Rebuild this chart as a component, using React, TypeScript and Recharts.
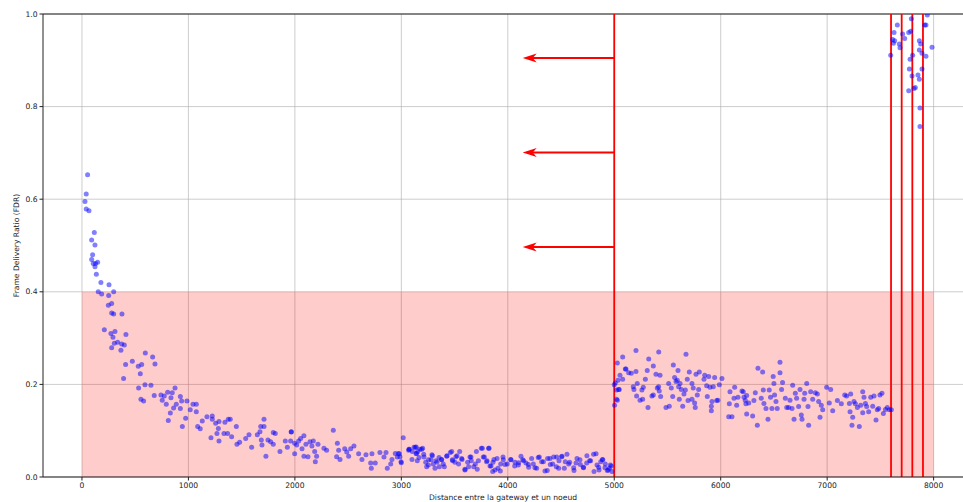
import { ScatterChart, Scatter, XAxis, YAxis, CartesianGrid, ReferenceArea, ReferenceLine, Label } from "recharts";

// FDR vs distance

const decayX = [53, 40, 28, 40, 66, 116, 91, 122, 100, 91, 106, 122, 147, 128, 135, 178, 254, 153, 185, 298, 251, 279, 248, 279, 298, 376, 210, 272, 310, 413, 291, 304, 335, 373, 398, 279, 366, 595, 664, 686, 473, 410, 529, 561, 548, 391, 532, 592, 648, 554, 579, 679, 742, 773, 805, 848, 874, 754, 792, 836, 830, 861, 886, 811, 924, 936, 924, 943, 974, 986, 1017, 1043, 1074, 1074, 1087, 1111, 1130, 1174, 1224, 1224, 1212, 1256, 1281, 1268, 1287, 1343, 1374, 1393, 1334, 1368, 1287, 1406, 1456, 1450, 1481, 1538, 1569, 1594];
const decayY = [0.653, 0.611, 0.595, 0.579, 0.575, 0.528, 0.512, 0.501, 0.48, 0.47, 0.461, 0.454, 0.464, 0.461, 0.438, 0.42, 0.415, 0.4, 0.395, 0.4, 0.392, 0.375, 0.371, 0.354, 0.352, 0.352, 0.318, 0.31, 0.314, 0.308, 0.302, 0.289, 0.291, 0.287, 0.285, 0.279, 0.274, 0.268, 0.259, 0.244, 0.25, 0.243, 0.239, 0.243, 0.223, 0.213, 0.192, 0.199, 0.198, 0.168, 0.164, 0.176, 0.177, 0.175, 0.183, 0.182, 0.192, 0.166, 0.157, 0.171, 0.138, 0.149, 0.157, 0.122, 0.174, 0.164, 0.148, 0.109, 0.127, 0.164, 0.145, 0.157, 0.157, 0.141, 0.109, 0.104, 0.121, 0.13, 0.132, 0.125, 0.085, 0.116, 0.105, 0.094, 0.12, 0.118, 0.125, 0.125, 0.094, 0.094, 0.078, 0.087, 0.071, 0.109, 0.075, 0.083, 0.091, 0.064];

const tailX = [1647, 1672, 1679, 1710, 1710, 1685, 1691, 1728, 1747, 1772, 1797, 1797, 1816, 1860, 1910, 1929, 1966, 1966, 1960, 1998, 1998, 2017, 2035, 2054, 2067, 2085, 2085, 2104, 2123, 2142, 2160, 2173, 2186, 2192, 2204, 2217, 2273, 2298, 2361, 2399, 2411, 2392, 2424, 2468, 2487, 2505, 2524, 2555, 2599, 2630, 2668, 2712, 2724, 2755, 2718, 2799, 2837, 2856, 2868, 2900, 2912, 2943, 2962, 2981, 3000, 3018, 3069, 3100, 3131, 3138, 3150, 3075, 3119, 3144, 3175, 3200, 3213, 3238, 3256, 3288, 3300, 3325, 3357, 3376, 3394, 3426, 3473, 3482, 3513, 3538, 3570, 3598, 3632, 3645, 3657, 3695, 3713, 3751, 3770, 3801, 3820, 3833, 3858, 3870, 3908, 3933, 3958, 3995, 4027, 4065, 4102, 4140, 4171, 4196, 4240, 4271, 4296, 4334, 4371, 4396, 4422, 4459, 4478, 4509, 4540, 4572, 4622, 4641, 4678, 4709, 4741, 4778, 4810, 4829, 4854, 4873, 4892, 4916, 4935, 4954, 4973, 4979];
const tailY = [0.091, 0.098, 0.109, 0.125, 0.109, 0.08, 0.069, 0.045, 0.08, 0.076, 0.071, 0.096, 0.094, 0.055, 0.078, 0.064, 0.097, 0.098, 0.078, 0.073, 0.05, 0.069, 0.078, 0.083, 0.061, 0.089, 0.045, 0.071, 0.044, 0.076, 0.067, 0.078, 0.055, 0.033, 0.045, 0.071, 0.062, 0.058, 0.101, 0.073, 0.058, 0.044, 0.038, 0.061, 0.054, 0.045, 0.061, 0.067, 0.05, 0.038, 0.048, 0.03, 0.05, 0.03, 0.019, 0.053, 0.043, 0.053, 0.019, 0.028, 0.038, 0.051, 0.043, 0.05, 0.031, 0.085, 0.058, 0.038, 0.064, 0.051, 0.035, 0.06, 0.064, 0.051, 0.06, 0.062, 0.043, 0.022, 0.037, 0.048, 0.028, 0.035, 0.022, 0.038, 0.028, 0.045, 0.055, 0.035, 0.044, 0.028, 0.038, 0.015, 0.022, 0.043, 0.035, 0.028, 0.017, 0.062, 0.043, 0.033, 0.062, 0.024, 0.012, 0.038, 0.019, 0.028, 0.037, 0.028, 0.038, 0.024, 0.031, 0.037, 0.03, 0.021, 0.028, 0.019, 0.043, 0.033, 0.014, 0.04, 0.028, 0.043, 0.019, 0.045, 0.033, 0.028, 0.014, 0.03, 0.037, 0.021, 0.03, 0.035, 0.012, 0.05, 0.021, 0.033, 0.038, 0.028, 0.014, 0.019, 0.024, 0.012];

// second pass over the 3000-5000 band, where the cloud is densest
const floorX = [2972, 2987, 2997, 3072, 3103, 3140, 3154, 3166, 3191, 3210, 3229, 3254, 3279, 3291, 3316, 3335, 3354, 3379, 3404, 3429, 3460, 3479, 3504, 3523, 3548, 3567, 3598, 3623, 3654, 3680, 3705, 3724, 3761, 3780, 3805, 3824, 3842, 3861, 3880, 3899, 3930, 3955, 3974, 4030, 4068, 4099, 4124, 4149, 4193, 4224, 4255, 4286, 4318, 4349, 4374, 4399, 4431, 4456, 4481, 4506, 4531, 4556, 4581, 4619, 4650, 4681, 4712, 4743, 4769, 4806, 4838, 4857, 4888, 4913, 4944, 4963];
const floorY = [0.051, 0.044, 0.033, 0.06, 0.055, 0.065, 0.055, 0.042, 0.06, 0.049, 0.032, 0.026, 0.037, 0.046, 0.019, 0.032, 0.042, 0.037, 0.022, 0.046, 0.053, 0.037, 0.032, 0.046, 0.055, 0.04, 0.017, 0.032, 0.043, 0.022, 0.055, 0.035, 0.062, 0.043, 0.035, 0.062, 0.024, 0.032, 0.015, 0.04, 0.013, 0.043, 0.027, 0.037, 0.032, 0.026, 0.045, 0.035, 0.027, 0.04, 0.02, 0.042, 0.033, 0.013, 0.04, 0.027, 0.043, 0.022, 0.035, 0.044, 0.019, 0.049, 0.032, 0.02, 0.04, 0.027, 0.02, 0.046, 0.035, 0.049, 0.026, 0.015, 0.037, 0.02, 0.015, 0.026];

const plateauX = [5000, 5010, 5022, 5047, 5035, 5003, 5022, 5029, 5079, 5054, 5079, 5104, 5135, 5204, 5324, 5418, 5674, 5367, 5110, 5160, 5204, 5041, 5029, 5179, 5185, 5216, 5210, 5242, 5260, 5273, 5292, 5267, 5310, 5317, 5354, 5367, 5392, 5404, 5417, 5430, 5436, 5423, 5486, 5517, 5511, 5536, 5549, 5555, 5567, 5580, 5592, 5599, 5611, 5605, 5618, 5630, 5643, 5655, 5668, 5686, 5705, 5693, 5730, 5730, 5742, 5755, 5761, 5768, 5780, 5799, 5793, 5843, 5850, 5868, 5874, 5887, 5899, 5912, 5912, 5918, 5930, 5943, 5962, 5974, 5987, 6012, 6081, 6075, 6087, 6106, 6125, 6131, 6150, 6162, 6200, 6212, 6219, 6231, 6237, 6244, 6244, 6263, 6300, 6312, 6325, 6344, 6350, 6381, 6394, 6400, 6406, 6425, 6444, 6456, 6468, 6481, 6493, 6500, 6506, 6519, 6531, 6557, 6557, 6581, 6572, 6607, 6620, 6638, 6651, 6670, 6689, 6676, 6701, 6713, 6732, 6745, 6757, 6764, 6789, 6783, 6808, 6820, 6826, 6845, 6864, 6889, 6908, 6920, 6933, 6945, 6958, 6995, 7020, 7033, 7052, 7096, 7133, 7165, 7183, 7209, 7215, 7221, 7233, 7240, 7252, 7265, 7284, 7302, 7315, 7334, 7334, 7346, 7359, 7371, 7390, 7409, 7428, 7440, 7459, 7471, 7484, 7496, 7515, 7528, 7547, 7565, 7584, 7603];
const plateauY = [0.199, 0.203, 0.188, 0.189, 0.209, 0.155, 0.168, 0.246, 0.259, 0.22, 0.211, 0.233, 0.225, 0.273, 0.255, 0.27, 0.265, 0.24, 0.233, 0.224, 0.228, 0.189, 0.166, 0.195, 0.189, 0.202, 0.175, 0.166, 0.188, 0.194, 0.211, 0.168, 0.23, 0.15, 0.175, 0.177, 0.222, 0.192, 0.195, 0.22, 0.174, 0.186, 0.15, 0.153, 0.202, 0.192, 0.174, 0.242, 0.215, 0.206, 0.209, 0.23, 0.168, 0.195, 0.202, 0.189, 0.153, 0.179, 0.188, 0.211, 0.227, 0.165, 0.202, 0.168, 0.192, 0.16, 0.15, 0.222, 0.177, 0.227, 0.189, 0.211, 0.22, 0.197, 0.174, 0.217, 0.194, 0.153, 0.143, 0.163, 0.195, 0.215, 0.165, 0.166, 0.199, 0.213, 0.158, 0.13, 0.184, 0.13, 0.17, 0.194, 0.155, 0.172, 0.186, 0.184, 0.172, 0.166, 0.158, 0.136, 0.176, 0.16, 0.132, 0.165, 0.182, 0.112, 0.235, 0.17, 0.227, 0.188, 0.159, 0.148, 0.125, 0.188, 0.172, 0.148, 0.217, 0.202, 0.177, 0.163, 0.148, 0.248, 0.225, 0.204, 0.189, 0.17, 0.15, 0.15, 0.166, 0.148, 0.125, 0.198, 0.181, 0.17, 0.152, 0.189, 0.134, 0.125, 0.181, 0.168, 0.202, 0.152, 0.112, 0.184, 0.168, 0.182, 0.179, 0.163, 0.129, 0.155, 0.145, 0.194, 0.16, 0.189, 0.143, 0.165, 0.158, 0.177, 0.175, 0.159, 0.141, 0.179, 0.112, 0.129, 0.163, 0.158, 0.15, 0.109, 0.155, 0.184, 0.139, 0.172, 0.159, 0.152, 0.141, 0.172, 0.153, 0.175, 0.123, 0.145, 0.148, 0.177, 0.181, 0.137, 0.146, 0.15, 0.145, 0.145];

const farX = [7597, 7659, 7628, 7615, 7634, 7622, 7678, 7684, 7709, 7728, 7766, 7785, 7791, 7803, 7779, 7772, 7797, 7766, 7828, 7816, 7853, 7866, 7872, 7872, 7866, 7878, 7866, 7891, 7891, 7928, 7916, 7928, 7941, 7985];
const farY = [0.911, 0.976, 0.96, 0.945, 0.942, 0.937, 0.935, 0.927, 0.957, 0.947, 0.96, 0.963, 0.99, 0.911, 0.902, 0.881, 0.866, 0.834, 0.841, 0.839, 0.868, 0.859, 0.797, 0.757, 0.942, 0.935, 0.922, 0.915, 0.881, 0.909, 0.976, 0.976, 0.998, 0.928];

const gatewayLines = [5000, 7600, 7700, 7800, 7900];
const arrowLevels = [0.905, 0.701, 0.497];
const arrowTip = 4140;
const xTicks = [0, 1000, 2000, 3000, 4000, 5000, 6000, 7000, 8000];
const yTicks = [0, 0.2, 0.4, 0.6, 0.8, 1.0];

const points = [
    ...decayX.map((x, i) => ({ x, y: decayY[i] })),
    ...tailX.map((x, i) => ({ x, y: tailY[i] })),
    ...floorX.map((x, i) => ({ x, y: floorY[i] })),
    ...plateauX.map((x, i) => ({ x, y: plateauY[i] })),
    ...farX.map((x, i) => ({ x, y: farY[i] })),
];

const font = "DejaVu Sans, sans-serif";
const tickStyle = { fontSize: 7.6, fill: "#222", fontFamily: font };

function Dot(props: any) {
    return <circle cx={props.cx} cy={props.cy} r={2.5} fill="#0000ff" fillOpacity={0.5} />;
}

function Arrow(props: any) {
    const { x1, y1, x2 } = props;
    return (
        <g>
            <line x1={x1} y1={y1} x2={x2 + 9} y2={y1} stroke="#ff0000" strokeWidth={2} />
            <polygon points={`${x2},${y1} ${x2 + 14},${y1 - 4.5} ${x2 + 10},${y1} ${x2 + 14},${y1 + 4.5}`} fill="#ff0000" />
        </g>
    );
}

function App() {
    return (
        <div style={{ position: "absolute", left: 0, top: 0, background: "#fff" }}>
            <ScatterChart width={963} height={502} margin={{ top: 14, right: 0, left: 0, bottom: 0 }}>
                <ReferenceArea x1={0} x2={8000} y1={0} y2={0.4} fill="#ff0000" fillOpacity={0.2} stroke="none" ifOverflow="visible" />
                <CartesianGrid stroke="#b0b0b0" strokeOpacity={0.7} strokeWidth={0.9} horizontalValues={yTicks} verticalValues={xTicks} />
                <XAxis
                    type="number"
                    dataKey="x"
                    domain={[-366, 8276]}
                    ticks={xTicks}
                    allowDataOverflow
                    height={25}
                    tickSize={3.5}
                    tickMargin={2}
                    tick={tickStyle}
                    stroke="#222"
                >
                    <Label
                        content={(p: any) => (
                            <text x={p.viewBox.x + p.viewBox.width / 2} y={p.viewBox.y + 23} textAnchor="middle" fontSize={7.6} fontFamily={font} fill="#222">
                                Distance entre la gateway et un noeud
                            </text>
                        )}
                    />
                </XAxis>
                <YAxis
                    type="number"
                    dataKey="y"
                    domain={[0, 1]}
                    ticks={yTicks}
                    allowDataOverflow
                    width={43}
                    tickSize={3.5}
                    tickMargin={2}
                    tick={tickStyle}
                    tickFormatter={(v: number) => v.toFixed(1)}
                    stroke="#222"
                >
                    <Label
                        content={(p: any) => {
                            const cx = 16;
                            const cy = p.viewBox.y + p.viewBox.height / 2;
                            return (
                                <text x={cx} y={cy} transform={`rotate(-90 ${cx} ${cy})`} textAnchor="middle" dominantBaseline="central" fontSize={7.6} fontFamily={font} fill="#222">
                                    Frame Delivery Ratio (FDR)
                                </text>
                            );
                        }}
                    />
                </YAxis>
                <ReferenceLine y={1} stroke="#222" strokeWidth={1} />
                {gatewayLines.map((g) => (
                    <ReferenceLine key={g} x={g} stroke="#ff0000" strokeWidth={1.8} />
                ))}
                {arrowLevels.map((lv) => (
                    <ReferenceLine
                        key={lv}
                        segment={[{ x: 5000, y: lv }, { x: arrowTip, y: lv }]}
                        stroke="#ff0000"
                        shape={(p: any) => <Arrow {...p} />}
                    />
                ))}
                <Scatter data={points} shape={Dot} isAnimationActive={false} />
            </ScatterChart>
        </div>
    );
}

export default App;
